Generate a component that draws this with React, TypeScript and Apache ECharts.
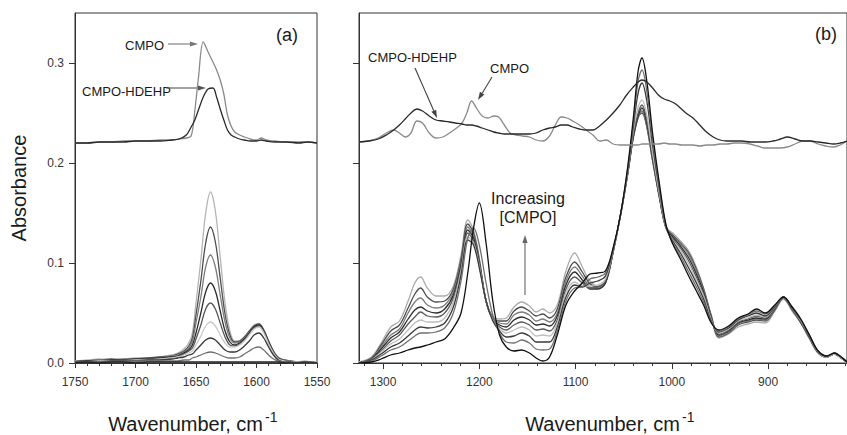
import React, { useEffect, useRef } from "react";
import * as echarts from "echarts";

// ---------- Panel (a): wavenumber grids ----------
const WA = [1750, 1740, 1730, 1720, 1710, 1700, 1690, 1680, 1670, 1665, 1660, 1656, 1653, 1650, 1646, 1642, 1638, 1634, 1630, 1626, 1622, 1618, 1614, 1610, 1606, 1602, 1598, 1594, 1590, 1586, 1582, 1577, 1572, 1566, 1560, 1555, 1550];
const A1 = [0.002, 0.003, 0.004, 0.003, 0.004, 0.005, 0.005, 0.006, 0.008, 0.010, 0.014, 0.020, 0.030, 0.060, 0.103, 0.150, 0.171, 0.152, 0.106, 0.060, 0.032, 0.022, 0.022, 0.026, 0.032, 0.038, 0.039, 0.033, 0.022, 0.012, 0.006, 0.003, 0.002, 0.001, 0.002, 0.001, 0.001];
const A2 = [0.001, 0.002, 0.003, 0.004, 0.003, 0.004, 0.005, 0.006, 0.007, 0.009, 0.012, 0.017, 0.025, 0.048, 0.082, 0.120, 0.136, 0.121, 0.085, 0.049, 0.028, 0.021, 0.022, 0.026, 0.032, 0.037, 0.039, 0.033, 0.022, 0.012, 0.005, 0.003, 0.002, 0.001, 0.001, 0.001, 0.000];
const A3 = [0.002, 0.002, 0.003, 0.003, 0.004, 0.004, 0.004, 0.005, 0.007, 0.008, 0.011, 0.015, 0.022, 0.040, 0.066, 0.096, 0.108, 0.096, 0.068, 0.041, 0.025, 0.020, 0.021, 0.025, 0.031, 0.036, 0.038, 0.032, 0.021, 0.011, 0.005, 0.002, 0.002, 0.001, 0.001, 0.000, 0.000];
const A4 = [0.001, 0.002, 0.002, 0.003, 0.003, 0.004, 0.004, 0.005, 0.006, 0.007, 0.010, 0.013, 0.018, 0.030, 0.050, 0.071, 0.080, 0.072, 0.052, 0.032, 0.021, 0.018, 0.020, 0.024, 0.030, 0.036, 0.038, 0.032, 0.021, 0.011, 0.005, 0.002, 0.001, 0.001, 0.001, 0.000, 0.000];
const A5 = [0.001, 0.001, 0.002, 0.002, 0.003, 0.003, 0.004, 0.004, 0.005, 0.006, 0.009, 0.012, 0.015, 0.024, 0.038, 0.054, 0.060, 0.054, 0.040, 0.026, 0.018, 0.017, 0.019, 0.023, 0.029, 0.035, 0.037, 0.031, 0.020, 0.010, 0.004, 0.002, 0.001, 0.001, 0.001, 0.000, 0.000];
const A6 = [0.001, 0.001, 0.002, 0.002, 0.002, 0.003, 0.003, 0.004, 0.005, 0.006, 0.008, 0.010, 0.012, 0.018, 0.027, 0.037, 0.041, 0.037, 0.028, 0.020, 0.016, 0.016, 0.018, 0.022, 0.028, 0.034, 0.036, 0.030, 0.019, 0.010, 0.004, 0.002, 0.001, 0.001, 0.000, 0.000, 0.000];
const A7 = [0.001, 0.001, 0.001, 0.002, 0.002, 0.002, 0.003, 0.003, 0.004, 0.005, 0.006, 0.008, 0.009, 0.013, 0.018, 0.023, 0.025, 0.023, 0.018, 0.013, 0.011, 0.011, 0.013, 0.017, 0.022, 0.028, 0.030, 0.025, 0.016, 0.008, 0.003, 0.001, 0.001, 0.000, 0.000, 0.000, 0.000];
const A8 = [0.000, 0.001, 0.001, 0.001, 0.001, 0.002, 0.002, 0.002, 0.002, 0.002, 0.003, 0.003, 0.005, 0.006, 0.008, 0.010, 0.011, 0.010, 0.008, 0.006, 0.005, 0.005, 0.006, 0.009, 0.012, 0.015, 0.016, 0.013, 0.008, 0.004, 0.002, 0.001, 0.000, 0.000, 0.000, 0.000, 0.000];
const A9 = [0.000, 0.001, 0.000, 0.001, 0.001, 0.000, 0.001, 0.001, 0.001, 0.001, 0.001, 0.001, 0.001, 0.001, 0.001, 0.001, 0.001, 0.001, 0.001, 0.001, 0.001, 0.001, 0.001, 0.001, 0.001, 0.001, 0.001, 0.001, 0.001, 0.001, 0.001, 0.000, 0.000, 0.000, 0.000, 0.000, 0.000];

const WAT = [1750, 1740, 1730, 1720, 1710, 1700, 1690, 1680, 1670, 1664, 1658, 1654, 1651, 1648, 1644, 1640, 1636, 1633, 1630, 1627, 1624, 1621, 1618, 1614, 1610, 1605, 1600, 1596, 1592, 1585, 1575, 1565, 1558, 1550];
const CMPO_A = [0.220, 0.220, 0.221, 0.221, 0.222, 0.222, 0.222, 0.223, 0.223, 0.224, 0.225, 0.227, 0.252, 0.285, 0.321, 0.311, 0.301, 0.293, 0.283, 0.269, 0.248, 0.237, 0.231, 0.228, 0.226, 0.224, 0.223, 0.225, 0.223, 0.222, 0.221, 0.221, 0.221, 0.220];
const HDEHP_A = [0.220, 0.220, 0.221, 0.221, 0.221, 0.222, 0.222, 0.222, 0.223, 0.224, 0.228, 0.236, 0.243, 0.253, 0.266, 0.274, 0.275, 0.266, 0.254, 0.243, 0.233, 0.228, 0.226, 0.224, 0.223, 0.222, 0.222, 0.223, 0.222, 0.221, 0.221, 0.220, 0.221, 0.220];

// ---------- Panel (b) ----------
const WB = [1325, 1312, 1302, 1292, 1283, 1274, 1267, 1261, 1254, 1245, 1236, 1227, 1219, 1212, 1206, 1200, 1193, 1186, 1179, 1172, 1164, 1156, 1148, 1141, 1134, 1127, 1119, 1110, 1101, 1093, 1085, 1077, 1069, 1061, 1053, 1046, 1040, 1035, 1031, 1026, 1020, 1013, 1006, 999, 991, 983, 975, 967, 959, 951, 941, 931, 921, 912, 903, 893, 884, 875, 866, 857, 848, 839, 831, 824, 818];
const B0 = [0, 0.001, 0.004, 0.008, 0.010, 0.013, 0.015, 0.016, 0.018, 0.021, 0.024, 0.035, 0.050, 0.090, 0.135, 0.160, 0.120, 0.062, 0.028, 0.016, 0.012, 0.013, 0.010, 0.005, 0.002, 0.006, 0.028, 0.058, 0.072, 0.080, 0.089, 0.090, 0.092, 0.115, 0.150, 0.195, 0.245, 0.292, 0.305, 0.282, 0.230, 0.180, 0.138, 0.119, 0.104, 0.088, 0.073, 0.058, 0.040, 0.033, 0.037, 0.045, 0.049, 0.054, 0.050, 0.058, 0.066, 0.056, 0.044, 0.028, 0.012, 0.007, 0.010, 0.006, 0.001];
const B1 = [0, 0.002, 0.007, 0.013, 0.016, 0.022, 0.027, 0.030, 0.030, 0.031, 0.035, 0.050, 0.082, 0.125, 0.135, 0.118, 0.080, 0.048, 0.030, 0.021, 0.020, 0.023, 0.020, 0.014, 0.013, 0.014, 0.032, 0.062, 0.075, 0.076, 0.084, 0.086, 0.090, 0.114, 0.150, 0.193, 0.240, 0.282, 0.293, 0.272, 0.224, 0.177, 0.137, 0.120, 0.107, 0.092, 0.077, 0.061, 0.041, 0.032, 0.036, 0.044, 0.048, 0.052, 0.049, 0.057, 0.066, 0.056, 0.043, 0.028, 0.012, 0.007, 0.010, 0.006, 0.001];
const B2 = [0, 0.003, 0.009, 0.016, 0.020, 0.027, 0.033, 0.036, 0.035, 0.036, 0.040, 0.056, 0.088, 0.123, 0.118, 0.095, 0.062, 0.042, 0.032, 0.026, 0.027, 0.030, 0.027, 0.021, 0.021, 0.021, 0.036, 0.066, 0.078, 0.076, 0.080, 0.082, 0.087, 0.113, 0.150, 0.191, 0.236, 0.270, 0.280, 0.262, 0.218, 0.174, 0.136, 0.122, 0.110, 0.096, 0.081, 0.064, 0.042, 0.031, 0.035, 0.043, 0.047, 0.050, 0.047, 0.056, 0.066, 0.055, 0.043, 0.027, 0.012, 0.007, 0.010, 0.006, 0.001];
const B3 = [0, 0.003, 0.011, 0.019, 0.024, 0.033, 0.040, 0.043, 0.041, 0.041, 0.045, 0.061, 0.092, 0.126, 0.120, 0.097, 0.062, 0.043, 0.034, 0.030, 0.033, 0.036, 0.033, 0.027, 0.028, 0.027, 0.040, 0.070, 0.081, 0.077, 0.077, 0.078, 0.084, 0.112, 0.149, 0.190, 0.232, 0.256, 0.263, 0.248, 0.210, 0.170, 0.135, 0.123, 0.113, 0.100, 0.084, 0.067, 0.043, 0.030, 0.034, 0.042, 0.045, 0.048, 0.046, 0.056, 0.066, 0.055, 0.042, 0.027, 0.011, 0.006, 0.009, 0.005, 0.001];
const B4 = [0, 0.004, 0.012, 0.022, 0.028, 0.039, 0.046, 0.051, 0.047, 0.046, 0.050, 0.065, 0.095, 0.130, 0.122, 0.098, 0.062, 0.044, 0.036, 0.033, 0.038, 0.041, 0.038, 0.033, 0.034, 0.032, 0.043, 0.074, 0.086, 0.080, 0.075, 0.076, 0.082, 0.112, 0.149, 0.189, 0.229, 0.250, 0.258, 0.243, 0.207, 0.168, 0.135, 0.124, 0.115, 0.103, 0.087, 0.069, 0.044, 0.029, 0.033, 0.041, 0.044, 0.047, 0.045, 0.055, 0.066, 0.054, 0.042, 0.026, 0.011, 0.006, 0.009, 0.005, 0.001];
const B5 = [0, 0.004, 0.014, 0.025, 0.031, 0.044, 0.053, 0.056, 0.052, 0.050, 0.054, 0.068, 0.098, 0.133, 0.125, 0.100, 0.062, 0.044, 0.038, 0.036, 0.043, 0.046, 0.043, 0.038, 0.039, 0.037, 0.047, 0.078, 0.091, 0.083, 0.074, 0.074, 0.080, 0.111, 0.149, 0.188, 0.226, 0.247, 0.255, 0.240, 0.205, 0.167, 0.135, 0.126, 0.117, 0.106, 0.090, 0.071, 0.045, 0.028, 0.032, 0.040, 0.043, 0.045, 0.044, 0.055, 0.066, 0.054, 0.041, 0.026, 0.011, 0.006, 0.009, 0.005, 0.001];
const B6 = [0, 0.005, 0.016, 0.028, 0.034, 0.050, 0.061, 0.065, 0.058, 0.055, 0.058, 0.071, 0.101, 0.136, 0.127, 0.101, 0.062, 0.045, 0.040, 0.039, 0.048, 0.051, 0.048, 0.042, 0.044, 0.041, 0.050, 0.082, 0.096, 0.087, 0.076, 0.075, 0.080, 0.111, 0.149, 0.188, 0.225, 0.245, 0.252, 0.237, 0.203, 0.166, 0.135, 0.127, 0.119, 0.109, 0.093, 0.073, 0.046, 0.027, 0.031, 0.039, 0.042, 0.044, 0.043, 0.054, 0.065, 0.053, 0.041, 0.025, 0.011, 0.006, 0.009, 0.005, 0.001];
const B7 = [0, 0.005, 0.018, 0.032, 0.038, 0.055, 0.069, 0.075, 0.066, 0.061, 0.062, 0.074, 0.104, 0.139, 0.130, 0.103, 0.062, 0.045, 0.042, 0.042, 0.052, 0.056, 0.052, 0.047, 0.049, 0.045, 0.054, 0.086, 0.101, 0.091, 0.079, 0.076, 0.080, 0.111, 0.150, 0.189, 0.226, 0.246, 0.250, 0.236, 0.202, 0.166, 0.135, 0.128, 0.120, 0.111, 0.095, 0.074, 0.047, 0.026, 0.030, 0.038, 0.041, 0.043, 0.042, 0.053, 0.065, 0.053, 0.040, 0.025, 0.010, 0.006, 0.009, 0.005, 0.001];
const B8 = [0.001, 0.006, 0.020, 0.036, 0.042, 0.062, 0.080, 0.086, 0.075, 0.067, 0.067, 0.077, 0.108, 0.143, 0.133, 0.105, 0.062, 0.046, 0.044, 0.045, 0.056, 0.061, 0.057, 0.051, 0.054, 0.050, 0.058, 0.092, 0.110, 0.096, 0.082, 0.077, 0.081, 0.112, 0.150, 0.190, 0.228, 0.248, 0.252, 0.238, 0.204, 0.167, 0.136, 0.130, 0.122, 0.113, 0.097, 0.075, 0.048, 0.025, 0.029, 0.036, 0.039, 0.041, 0.040, 0.052, 0.064, 0.052, 0.040, 0.024, 0.010, 0.006, 0.009, 0.005, 0.000];

const WBT = [1325, 1315, 1305, 1295, 1289, 1283, 1277, 1271, 1265, 1259, 1252, 1245, 1238, 1231, 1225, 1218, 1213, 1208, 1203, 1197, 1191, 1185, 1180, 1174, 1168, 1162, 1155, 1148, 1141, 1134, 1127, 1121, 1115, 1109, 1103, 1096, 1089, 1082, 1075, 1068, 1061, 1054, 1047, 1040, 1035, 1031, 1026, 1020, 1014, 1008, 1002, 996, 990, 984, 978, 971, 964, 957, 950, 943, 935, 927, 919, 911, 903, 895, 887, 880, 872, 864, 856, 848, 840, 832, 825, 818];
const HDEHP_B = [0.221, 0.222, 0.224, 0.229, 0.233, 0.238, 0.244, 0.250, 0.254, 0.252, 0.247, 0.243, 0.242, 0.241, 0.240, 0.239, 0.238, 0.238, 0.237, 0.235, 0.233, 0.231, 0.230, 0.229, 0.229, 0.229, 0.229, 0.229, 0.230, 0.233, 0.235, 0.236, 0.238, 0.238, 0.236, 0.234, 0.233, 0.233, 0.237, 0.243, 0.250, 0.258, 0.268, 0.276, 0.281, 0.283, 0.281, 0.275, 0.268, 0.264, 0.262, 0.259, 0.254, 0.249, 0.245, 0.238, 0.231, 0.226, 0.223, 0.222, 0.222, 0.222, 0.221, 0.221, 0.221, 0.222, 0.224, 0.226, 0.224, 0.222, 0.222, 0.221, 0.220, 0.219, 0.220, 0.222];
const CMPO_B = [0.221, 0.222, 0.225, 0.231, 0.233, 0.230, 0.226, 0.230, 0.242, 0.240, 0.230, 0.225, 0.226, 0.230, 0.234, 0.240, 0.250, 0.262, 0.255, 0.247, 0.245, 0.247, 0.246, 0.238, 0.230, 0.228, 0.227, 0.226, 0.223, 0.222, 0.227, 0.238, 0.246, 0.245, 0.242, 0.238, 0.233, 0.228, 0.222, 0.223, 0.219, 0.218, 0.218, 0.218, 0.218, 0.219, 0.219, 0.219, 0.219, 0.220, 0.219, 0.219, 0.218, 0.218, 0.218, 0.217, 0.218, 0.218, 0.219, 0.219, 0.220, 0.220, 0.219, 0.217, 0.215, 0.215, 0.215, 0.216, 0.219, 0.222, 0.222, 0.219, 0.217, 0.216, 0.218, 0.222];

// ---------- Ticks ----------
const A_X_TICKS = [1550, 1600, 1650, 1700, 1750];
const B_X_TICKS = [900, 1000, 1100, 1200, 1300];
const B_X_MINOR = [820, 840, 860, 880, 920, 940, 960, 980, 1020, 1040, 1060, 1080, 1120, 1140, 1160, 1180, 1220, 1240, 1260, 1280, 1320];
const Y_TICKS = [0, 0.1, 0.2, 0.3];

const A_LOWER = [A1, A2, A3, A4, A5, A6, A7, A8, A9];
const A_COLORS = ["#b4b4b4", "#4d4d4d", "#7c7c7c", "#2b2b2b", "#575757", "#c9c9c9", "#3a3a3a", "#707070", "#222222"];
const B_LOWER = [B8, B7, B6, B5, B4, B3, B2, B1, B0];
const B_COLORS = ["#ababab", "#4d4d4d", "#7c7c7c", "#2e2e2e", "#5a5a5a", "#bdbdbd", "#3a3a3a", "#707070", "#111111"];

const FONT = "Liberation Sans, Arial, Helvetica, sans-serif";

const zip = (xs: number[], ys: number[]) => xs.map((x, i) => [x, ys[i]]);

function arrow(x1: number, y1: number, x2: number, y2: number, color: string) {
  const ang = Math.atan2(y2 - y1, x2 - x1);
  const L = 8, W = 2.6;
  const bx = x2 - L * Math.cos(ang), by = y2 - L * Math.sin(ang);
  const px = -Math.sin(ang) * W, py = Math.cos(ang) * W;
  return [
    { type: "line", shape: { x1, y1, x2: bx, y2: by }, style: { stroke: color, lineWidth: 1.1 } },
    { type: "polygon", shape: { points: [[x2, y2], [bx + px, by + py], [bx - px, by - py]] }, style: { fill: color } },
  ];
}

function txt(x: number, y: number, text: string, size: number, align = "left", color = "#1a1a1a") {
  return { type: "text", x, y, style: { text, fontSize: size, fontFamily: FONT, fill: color, textAlign: align, textVerticalAlign: "middle" } };
}

export default function App() {
  const ref = useRef<HTMLDivElement>(null);
  useEffect(() => {
    if (!ref.current) return;
    const chart = echarts.init(ref.current, undefined, { renderer: "svg" });
    const lineBase = { type: "line", showSymbol: false, smooth: 0.35, silent: true };
    const series: any[] = [];
    A_LOWER.forEach((arr, i) =>
      series.push({ ...lineBase, xAxisIndex: 0, yAxisIndex: 0, data: zip(WA, arr), lineStyle: { color: A_COLORS[i], width: 1.3 } })
    );
    series.push({ ...lineBase, name: "CMPO", xAxisIndex: 0, yAxisIndex: 0, data: zip(WAT, CMPO_A), lineStyle: { color: "#8a8a8a", width: 1.3 } });
    series.push({ ...lineBase, name: "CMPO-HDEHP", xAxisIndex: 0, yAxisIndex: 0, data: zip(WAT, HDEHP_A), lineStyle: { color: "#2a2a2a", width: 1.3 } });
    B_LOWER.forEach((arr, i) =>
      series.push({ ...lineBase, xAxisIndex: 1, yAxisIndex: 1, data: zip(WB, arr), lineStyle: { color: B_COLORS[i], width: 1.3 } })
    );
    series.push({ ...lineBase, name: "CMPO", xAxisIndex: 1, yAxisIndex: 1, data: zip(WBT, CMPO_B), lineStyle: { color: "#8a8a8a", width: 1.3 } });
    series.push({ ...lineBase, name: "CMPO-HDEHP", xAxisIndex: 1, yAxisIndex: 1, data: zip(WBT, HDEHP_B), lineStyle: { color: "#2a2a2a", width: 1.3 } });

    const axisLine = { show: true, lineStyle: { color: "#333", width: 1 } };
    const lbl = { fontSize: 12, color: "#333", fontFamily: FONT };
    const plain = (v: number) => String(v);

    const option: any = {
      animation: false,
      backgroundColor: "#fff",
      grid: [
        { left: 75, top: 13, width: 242, height: 350, show: true, borderColor: "#333", borderWidth: 1 },
        { left: 359, top: 13, width: 488, height: 350, show: true, borderColor: "#333", borderWidth: 1 },
      ],
      xAxis: [
        {
          type: "value", gridIndex: 0, position: "bottom", min: 1550, max: 1750, inverse: true, interval: 50,
          axisLine, splitLine: { show: false },
          axisTick: { show: true, length: 5, lineStyle: { color: "#333" } },
          minorTick: { show: true, splitNumber: 5, length: 3, lineStyle: { color: "#333" } },
          minorSplitLine: { show: false },
          axisLabel: { ...lbl, margin: 13, customValues: A_X_TICKS, formatter: plain },
        },
        {
          type: "value", gridIndex: 1, position: "bottom", min: 818, max: 1325, inverse: true,
          axisLine, splitLine: { show: false },
          axisTick: { show: true, length: 6, lineStyle: { color: "#333" }, customValues: B_X_TICKS },
          axisLabel: { ...lbl, margin: 13, customValues: B_X_TICKS, formatter: plain },
        },
        {
          type: "value", gridIndex: 1, position: "bottom", min: 818, max: 1325, inverse: true,
          axisLine: { show: false }, splitLine: { show: false },
          axisTick: { show: true, length: 3, lineStyle: { color: "#333" }, customValues: B_X_MINOR },
          axisLabel: { show: false },
        },
      ],
      yAxis: [
        {
          type: "value", gridIndex: 0, min: 0, max: 0.35,
          axisLine, splitLine: { show: false },
          axisTick: { show: true, length: 6, lineStyle: { color: "#333" }, customValues: Y_TICKS },
          axisLabel: { ...lbl, margin: 11, customValues: Y_TICKS, formatter: (v: number) => v.toFixed(1) },
        },
        {
          type: "value", gridIndex: 1, min: 0, max: 0.35,
          axisLine, splitLine: { show: false },
          axisTick: { show: true, length: 6, lineStyle: { color: "#333" }, customValues: Y_TICKS },
          axisLabel: { show: false },
        },
      ],
      series,
      graphic: [
        { type: "text", x: 19, y: 188, rotation: Math.PI / 2, style: { text: "Absorbance", fontSize: 20, fontFamily: FONT, fill: "#1a1a1a", textAlign: "center", textVerticalAlign: "middle" } },
        txt(263, 424, "Wavenumber, cm", 20, "right"),
        txt(265, 417, "-1", 14, "left"),
        txt(680, 424, "Wavenumber, cm", 20, "right"),
        txt(682, 417, "-1", 14, "left"),
        txt(287, 35, "(a)", 18, "center"),
        txt(826, 34, "(b)", 18, "center"),
        txt(125, 45, "CMPO", 13, "left"),
        ...arrow(168, 44, 198, 44, "#777"),
        txt(82, 91, "CMPO-HDEHP", 13, "left"),
        ...arrow(166, 88, 206, 88, "#555"),
        txt(368, 57, "CMPO-HDEHP", 13, "left"),
        ...arrow(415, 68, 437, 118, "#444"),
        txt(490, 68, "CMPO", 13, "left"),
        ...arrow(492, 77, 478, 100, "#444"),
        txt(528, 198, "Increasing", 16, "center"),
        txt(528, 217, "[CMPO]", 16, "center"),
        ...arrow(525, 295, 525, 235, "#666"),
      ],
    };
    chart.setOption(option);
    return () => chart.dispose();
  }, []);
  return <div ref={ref} style={{ position: "fixed", left: 0, top: 0, width: 847, height: 435, background: "#fff" }} />;
}
